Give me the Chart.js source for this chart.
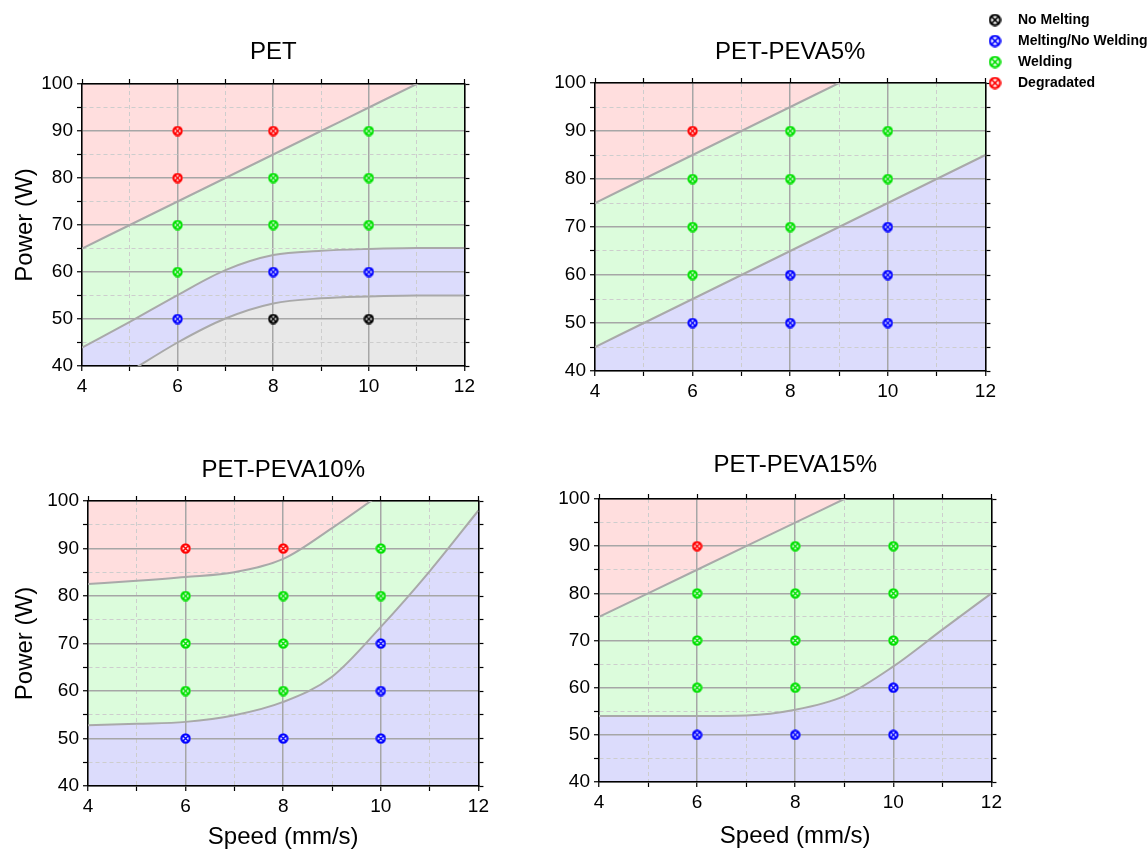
<!DOCTYPE html>
<html>
<head>
<meta charset="utf-8">
<script src="https://cdn.jsdelivr.net/npm/chart.js@4.4.1/dist/chart.umd.min.js"></script>
<style>
  body { margin: 0; background: #fff; }
  #wrap { position: relative; width: 1148px; height: 852px; overflow: hidden; }
  #wrap canvas { position: absolute; }
</style>
</head>
<body>
<div id="wrap">
  <canvas id="pet"></canvas>
  <canvas id="peva5"></canvas>
  <canvas id="peva10"></canvas>
  <canvas id="peva15"></canvas>
  <canvas id="key"></canvas>
</div>
<script>
// N = no melting, M = melting/no welding, W = welding, D = degradated
const classCodes = ['N', 'M', 'W', 'D'];
const classNames = ['No Melting', 'Melting/No Welding', 'Welding', 'Degradated'];
const markerColors = ['#000000', '#0000ff', '#00e000', '#ff0000'];
const regionColors = { N: '#e8e8e8', M: '#dcdcfc', W: '#dcfcdc', D: '#ffdede' };

const speeds = [6, 8, 10];
const powers = [50, 60, 70, 80, 90];

// one row per speed, one code per power
const petClass    = [['M','W','W','D','D'], ['N','M','W','W','D'], ['N','M','W','W','W']];
const peva5Class  = [['M','W','W','W','D'], ['M','M','W','W','W'], ['M','M','M','W','W']];
const peva10Class = [['M','W','W','W','D'], ['M','W','W','W','D'], ['M','M','M','W','W']];
const peva15Class = [['M','W','W','W','D'], ['M','W','W','W','W'], ['M','M','W','W','W']];

// region borders, read at these speeds
const edgeSpeeds = [4, 5, 6, 7, 8, 9, 10, 11, 12];
const petDegradedEdge   = [65, 70, 75, 80, 85, 90, 95, 100, 105];
const petWeldingEdge    = [43.9, 49.4, 55.1, 60.4, 63.6, 64.5, 64.9, 65.1, 65.1];
const petMeltingEdge    = [32.5, 38.8, 45, 50.1, 53.3, 54.4, 54.8, 55, 55];
const peva5DegradedEdge = [75, 80, 85, 90, 95, 100, 105, 110, 115];
const peva5WeldingEdge  = [45, 50, 55, 60, 65, 70, 75, 80, 85];
const peva10DegradedEdge = [82.5, 83.2, 84, 85, 87.8, 94.3, 101.5, 109, 117];
const peva10WeldingEdge  = [52.8, 53.1, 53.5, 54.9, 57.7, 63.0, 73.5, 85.2, 98];
const peva15DegradedEdge = [75, 80, 85, 90, 95, 100, 105, 110, 115];
const peva15WeldingEdge  = [54, 54, 54, 54.1, 55.3, 58.2, 64.5, 72.3, 80];

Chart.defaults.font.family = '"Liberation Sans", Arial, sans-serif';
Chart.defaults.color = '#000';

function makeMarker(color, size) {
  const c = document.createElement('canvas');
  c.width = size; c.height = size;
  const g = c.getContext('2d');
  const m = size / 2, r = size / 2 - 1.4;
  g.fillStyle = '#fff';
  g.beginPath(); g.arc(m, m, r + 1, 0, Math.PI * 2); g.fill();
  g.strokeStyle = color; g.lineWidth = 2.2;
  g.beginPath(); g.arc(m, m, r, 0, Math.PI * 2); g.stroke();
  g.lineWidth = 1.6;
  const d = r * 0.72;
  g.beginPath(); g.moveTo(m - d, m - d); g.lineTo(m + d, m + d); g.moveTo(m + d, m - d); g.lineTo(m - d, m + d); g.stroke();
  return c;
}
const markers = markerColors.map(c => makeMarker(c, 11));
const keyMarkers = markerColors.map(c => makeMarker(c, 13));

function edgePoints(ys) {
  return edgeSpeeds.map((x, i) => ({ x: x, y: ys[i] }));
}

function buildDatasets(grid, edges, regions) {
  const sets = [];
  classCodes.forEach((code, k) => {
    const data = [];
    speeds.forEach((s, i) => {
      powers.forEach((p, j) => { if (grid[i][j] === code) data.push({ x: s, y: p }); });
    });
    if (data.length) {
      sets.push({ label: classNames[k], data: data, showLine: false, pointStyle: markers[k], pointRadius: 5, fill: false });
    }
  });
  edges.forEach((e, i) => {
    sets.push({ data: edgePoints(e), borderColor: '#a9a9a9', borderWidth: 2, pointRadius: 0,
      cubicInterpolationMode: 'monotone', fill: 'end', backgroundColor: regionColors[regions[i]] });
  });
  // lowest region, under the last border
  sets.push({ data: edgePoints(edges[edges.length - 1]), borderWidth: 0, pointRadius: 0,
    cubicInterpolationMode: 'monotone', fill: 'start', backgroundColor: regionColors[regions[edges.length]] });
  return sets;
}

const AXIS_W = 82, RIGHT_W = 14, TOP_H = 6;
const isMajor = (c, step) => c.tick && c.tick.value % step === 0;

function mainAxis(pos, min, max, step, size, title, titlePad) {
  return {
    type: 'linear', position: pos, min: min, max: max,
    afterFit: s => { if (s.isHorizontal()) s.height = size; else s.width = size; },
    ticks: { stepSize: step / 2, autoSkip: false, maxRotation: 0, padding: 4, font: { size: 19 }, color: '#000',
      callback: v => (v % step === 0 ? v : '') },
    grid: { color: c => (isMajor(c, step) ? '#a6a6a6' : '#cdcdcd'), lineWidth: c => (isMajor(c, step) ? 1.5 : 1),
      tickColor: '#000', tickLength: 5, tickWidth: 1.2 },
    border: { color: '#000', width: 1.5, dash: c => (c.tick && !isMajor(c, step) ? [4, 3] : []) },
    title: title ? { display: true, text: title, font: { size: 24 }, color: '#000', padding: titlePad } : { display: false }
  };
}

function frameAxis(pos, min, max, step) {
  return {
    type: 'linear', position: pos, min: min, max: max,
    afterFit: s => { if (s.isHorizontal()) s.height = TOP_H; else s.width = RIGHT_W; },
    ticks: { display: false, stepSize: step / 2 },
    grid: { drawOnChartArea: false, tickColor: '#000', tickLength: 5, tickWidth: 1.2 },
    border: { color: '#000', width: 1.5 }
  };
}

const panels = [
  { id: 'pet', title: 'PET', grid: petClass, edges: [petDegradedEdge, petWeldingEdge, petMeltingEdge],
    regions: ['D', 'W', 'M', 'N'], plot: { l: 82, t: 84, r: 465, b: 366 }, top: 0, titleY: 52, bottom: 30,
    yPad: 10.6, xPad: null },
  { id: 'peva5', title: 'PET-PEVA5%', grid: peva5Class, edges: [peva5DegradedEdge, peva5WeldingEdge],
    regions: ['D', 'W', 'M'], plot: { l: 595, t: 83, r: 986, b: 371 }, top: 0, titleY: 52, bottom: 30,
    yPad: null, xPad: null },
  { id: 'peva10', title: 'PET-PEVA10%', grid: peva10Class, edges: [peva10DegradedEdge, peva10WeldingEdge],
    regions: ['D', 'W', 'M'], plot: { l: 88, t: 501, r: 479, b: 786 }, top: 420, titleY: 470, bottom: 66,
    yPad: 4.6, xPad: 0 },
  { id: 'peva15', title: 'PET-PEVA15%', grid: peva15Class, edges: [peva15DegradedEdge, peva15WeldingEdge],
    regions: ['D', 'W', 'M'], plot: { l: 599, t: 499, r: 992, b: 782 }, top: 420, titleY: 465, bottom: 70,
    yPad: null, xPad: 1.6 }
];

panels.forEach(p => {
  const cv = document.getElementById(p.id);
  cv.width = AXIS_W + (p.plot.r - p.plot.l) + RIGHT_W;
  cv.height = p.plot.b + p.bottom - p.top;
  cv.style.left = (p.plot.l - AXIS_W) + 'px';
  cv.style.top = p.top + 'px';
  const padTop = p.titleY - p.top - 14.4;
  const padBottom = p.plot.t - p.top - TOP_H - 28.8 - padTop;
  new Chart(cv, {
    type: 'line',
    data: { datasets: buildDatasets(p.grid, p.edges, p.regions) },
    options: {
      responsive: false, animation: false, events: [],
      layout: { padding: 0 },
      scales: {
        x: mainAxis('bottom', 4, 12, 2, p.bottom, p.xPad === null ? null : 'Speed (mm/s)', { top: 0, bottom: p.xPad }),
        y: mainAxis('left', 40, 100, 10, AXIS_W, p.yPad === null ? null : 'Power (W)', { top: p.yPad, bottom: 0 }),
        x2: frameAxis('top', 4, 12, 2),
        y2: frameAxis('right', 40, 100, 10)
      },
      plugins: {
        filler: { drawTime: 'beforeDraw' },
        legend: { display: false },
        tooltip: { enabled: false },
        title: { display: true, text: p.title, fullSize: false, color: '#000',
          font: { size: 24, weight: 'normal' }, padding: { top: padTop, bottom: padBottom } }
      }
    }
  });
});

// legend on its own
const keyCanvas = document.getElementById('key');
keyCanvas.width = 400; keyCanvas.height = 110;
keyCanvas.style.left = '972px'; keyCanvas.style.top = '6px';
new Chart(keyCanvas, {
  type: 'line',
  data: { datasets: [] },
  options: {
    responsive: false, animation: false, events: [],
    scales: { x: { display: false }, y: { display: false } },
    plugins: {
      tooltip: { enabled: false },
      legend: {
        position: 'left', align: 'start',
        labels: {
          usePointStyle: true, pointStyleWidth: 32, boxHeight: 14, padding: 7, color: '#000',
          font: { size: 14, weight: 'bold' },
          generateLabels: () => classNames.map((t, k) => ({
            text: t, pointStyle: keyMarkers[k], fillStyle: markerColors[k], strokeStyle: markerColors[k],
            lineWidth: 0, hidden: false, datasetIndex: k
          }))
        }
      }
    }
  }
});
</script>
</body>
</html>
